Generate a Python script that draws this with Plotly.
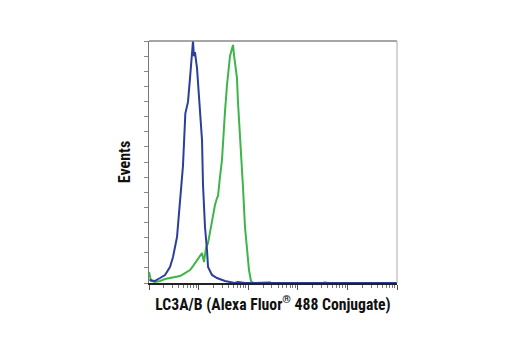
import plotly.graph_objects as go

# Fluorescence intensity (log axis) and event counts
blue_x = [1.02, 1.30, 1.67, 2.10, 2.65, 3.05, 3.67, 4.22, 4.84, 5.40, 5.83, 6.11, 6.71, 7.36, 7.71,
          8.05, 8.45, 9.29, 9.73, 10.67, 11.72, 12.27, 13.46, 14.76, 15.49, 18.62, 23.5, 34.0,
          53.7, 61.7, 87.1, 100000]
blue_y = [2.0, 1.3, 3.3, 5.3, 10.6, 17.2, 30.4, 52.9, 77.4, 112.0, 116.4, 119.7, 135.5, 152.7, 160.0,
          150.0, 152.7, 142.1, 132.9, 119.7, 94.5, 64.8, 37.0, 21.8, 10.6, 5.3, 3.3, 1.3,
          0.0, 0.7, 0.0, 0.0]

green_x = [1.0, 1.02, 1.10, 1.32, 1.67, 2.10, 2.65, 3.34, 4.22, 5.32, 6.71, 7.71, 9.29, 10.67,
           11.72, 12.85, 14.09, 15.49, 16.98, 19.5, 21.4, 23.5, 24.6, 27.0, 29.6, 34.0, 37.4,
           43.0, 47.1, 49.4, 51.8, 56.8, 59.4, 62.2, 68.4, 75.0, 78.5, 86.1, 94.6, 103.8,
           113.8, 125.0, 275, 290, 316, 3162, 3548, 3981, 100000]
green_y = [7.3, 6.0, 1.3, 0.7, 1.3, 2.6, 3.3, 4.0, 4.6, 6.6, 8.6, 11.2, 15.2, 17.9,
           19.8, 13.9, 23.1, 26.4, 33.7, 43.6, 51.6, 56.2, 57.5, 70.1, 81.3, 113.1, 130.9,
           150.1, 155.4, 157.4, 150.7, 140.8, 135.5, 119.7, 97.9, 81.3, 63.5, 37.0, 19.8, 8.6,
           1.3, 0.0, 0.5, 0.0, 0.0, 0.0, 0.5, 0.0, 0.0]

x_title = "LC3A/B (Alexa Fluor<sup>®</sup> 488 Conjugate)"
y_title = "Events"

fig = go.Figure()
fig.add_trace(go.Scatter(x=green_x, y=green_y, mode="lines",
                         line=dict(color="#3db54a", width=2), showlegend=False))
fig.add_trace(go.Scatter(x=blue_x, y=blue_y, mode="lines",
                         line=dict(color="#2b3f9b", width=2), showlegend=False))

font_family = "Roboto Condensed, Liberation Sans Narrow, DejaVu Sans Condensed, sans-serif"

fig.update_layout(
    width=520, height=350,
    margin=dict(l=149, r=123, t=41, b=67),
    paper_bgcolor="white", plot_bgcolor="white",
    xaxis=dict(type="log", range=[0, 5], showgrid=False, zeroline=False,
               showline=True, linecolor="#222222", linewidth=1.5,
               ticks="outside", ticklen=5, tickcolor="#555555", dtick=1,
               showticklabels=False,
               minor=dict(ticks="outside", ticklen=3, tickcolor="#777777", dtick="D1", showgrid=False),
               title=dict(text="<b>" + x_title + "</b>", standoff=10,
                          font=dict(family=font_family, size=15.7, color="#111111"))),
    yaxis=dict(range=[0, 160], showgrid=False, zeroline=False,
               showline=True, linecolor="#777777", linewidth=1,
               ticks="outside", ticklen=4, tickcolor="#888888", dtick=10,
               showticklabels=False,
               title=dict(text="<b>" + y_title + "</b>", standoff=9,
                          font=dict(family=font_family, size=16, color="#111111"))),
    shapes=[
        dict(type="line", xref="paper", yref="paper", x0=0, x1=1, y0=1, y1=1,
             line=dict(color="#888888", width=1.5)),
        dict(type="line", xref="paper", yref="paper", x0=1, x1=1, y0=0, y1=1,
             line=dict(color="#aaaaaa", width=1)),
    ],
)

fig.write_html("out.html")
